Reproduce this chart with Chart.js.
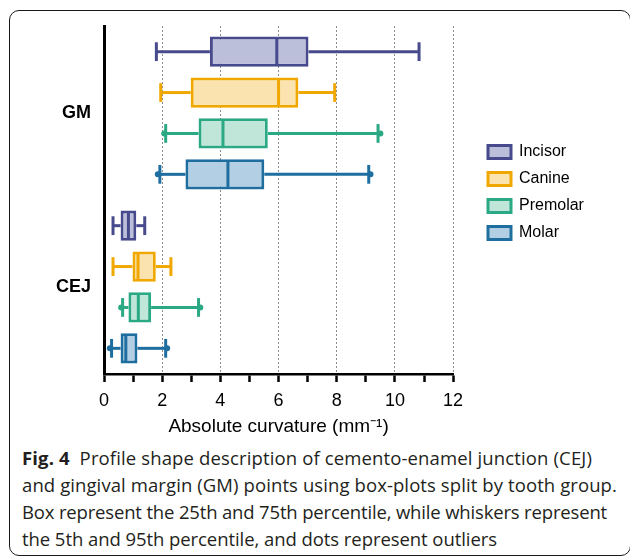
<!DOCTYPE html>
<html>
<head>
<meta charset="utf-8">
<script src="https://cdn.jsdelivr.net/npm/chart.js@4/dist/chart.umd.min.js"></script>
<style>
  html, body { margin:0; padding:0; width:630px; height:559px; overflow:hidden; background:#fff; }
  #frame { position:absolute; left:9px; top:10px; width:622px; height:546px; border:1.5px solid #1a1a1a; border-radius:10px; box-sizing:border-box; }
  #chartWrap { position:absolute; left:0; top:0; width:630px; height:442px; }
  #caption { position:absolute; left:22px; top:444px; font-family:"Open Sans","Noto Sans",sans-serif; font-size:18.5px; line-height:27px; color:#231f20; white-space:nowrap; }
  #caption .ln { display:block; }
  #caption b { font-weight:700; }
</style>
</head>
<body>
<div id="frame"></div>
<div id="chartWrap"><canvas id="c" width="630" height="442"></canvas></div>
<div id="caption">
  <span class="ln" data-w="570"><b>Fig. 4</b>&nbsp; Profile shape description of cemento-enamel junction (CEJ)</span>
  <span class="ln" data-w="595">and gingival margin (GM) points using box-plots split by tooth group.</span>
  <span class="ln" data-w="585">Box represent the 25th and 75th percentile, while whiskers represent</span>
  <span class="ln" data-w="475">the 5th and 95th percentile, and dots represent outliers</span>
</div>
<script>
// ---- data ----
const categories = ['GM', 'CEJ'];
const seriesNames = ['Incisor', 'Canine', 'Premolar', 'Molar'];
// each inner array: [GM, CEJ]
const whiskerLow  = [[1.80, 0.31], [1.95, 0.31], [2.12, 0.64], [1.92, 0.26]];
const quartile1   = [[3.64, 0.57], [2.98, 0.98], [3.25, 0.84], [2.80, 0.57]];
const medianVals  = [[5.94, 0.84], [6.00, 1.17], [4.09, 1.18], [4.26, 0.75]];
const quartile3   = [[7.03, 1.11], [6.68, 1.78], [5.63, 1.62], [5.51, 1.15]];
const whiskerHigh = [[10.83, 1.40], [7.93, 2.30], [9.42, 3.25], [9.10, 2.12]];
const outliers    = [[[], []], [[], []], [[2.07, 9.50], [0.59, 3.31]], [[1.85, 9.16], [0.20, 2.17]]];
const xTickLabels = ['0', '2', '4', '6', '8', '10', '12'];

const strokeColors = ['#474a8c', '#f0a800', '#2aa984', '#1f6ea0'];
const fillColors   = ['#bcbfd9', '#fae3ae', '#bfe6d8', '#b3cfe3'];

Chart.defaults.font.family = '"Liberation Sans", Arial, sans-serif';
Chart.defaults.color = '#000';

const boxWhiskers = {
  id: 'boxWhiskers',
  afterDatasetsDraw(chart) {
    const ctx = chart.ctx, xs = chart.scales.x;
    chart.data.datasets.forEach((ds, i) => {
      const meta = chart.getDatasetMeta(i);
      meta.data.forEach((bar, k) => {
        const y = bar.y, h = bar.height;
        const px = v => xs.getPixelForValue(v);
        const xl = px(whiskerLow[i][k]), x1 = px(quartile1[i][k]), xm = px(medianVals[i][k]),
              x3 = px(quartile3[i][k]), xh = px(whiskerHigh[i][k]);
        ctx.save();
        ctx.strokeStyle = ds.borderColor;
        ctx.fillStyle = ds.borderColor;
        ctx.lineWidth = 3;
        ctx.lineCap = 'butt';
        const line = (a, b, c, d) => { ctx.beginPath(); ctx.moveTo(a, b); ctx.lineTo(c, d); ctx.stroke(); };
        line(xl, y, x1, y);
        line(x3, y, xh, y);
        const cap = h * 0.31;
        line(xl, y - cap, xl, y + cap);
        line(xh, y - cap, xh, y + cap);
        line(xm, y - h / 2 + 1.5, xm, y + h / 2 - 1.5);
        outliers[i][k].forEach(v => {
          ctx.beginPath(); ctx.arc(px(v), y, 3, 0, Math.PI * 2); ctx.fill();
        });
        ctx.restore();
      });
    });
  }
};

const LEGEND_X = 488, LEGEND_DY = -41.5;
const legendPlace = {
  id: 'legendPlace',
  afterLayout(chart) {
    const lg = chart.legend;
    if (!lg) return;
    const pad = lg.options.labels.padding;
    const dx = LEGEND_X - (lg.left + pad);
    lg.left += dx; lg.right += dx;
    lg.top += LEGEND_DY; lg.bottom += LEGEND_DY;
  }
};

new Chart(document.getElementById('c'), {
  type: 'bar',
  data: {
    labels: categories,
    datasets: seriesNames.map((name, i) => ({
      label: name,
      data: categories.map((c, k) => [quartile1[i][k], quartile3[i][k]]),
      backgroundColor: fillColors[i],
      borderColor: strokeColors[i],
      borderWidth: 3,
      borderSkipped: false,
      categoryPercentage: 0.94,
      barPercentage: 0.74
    }))
  },
  options: {
    indexAxis: 'y',
    responsive: false,
    animation: false,
    devicePixelRatio: 1,
    layout: { padding: { top: 26, right: 60, bottom: 0, left: 0 } },
    scales: {
      x: {
        type: 'linear', min: 0, max: 12,
        ticks: {
          stepSize: 1, autoSkip: false, maxRotation: 0, padding: 8,
          color: '#000', font: { size: 18 },
          callback: (v) => { const s = String(v); return xTickLabels.includes(s) ? s : ''; }
        },
        grid: {
          color: (c) => (c.tick && c.tick.value > 0 && c.tick.value % 2 === 0) ? '#8c8c8c' : 'rgba(0,0,0,0)',
          lineWidth: 1, tickColor: '#000', tickLength: 8, tickWidth: 2.5
        },
        border: { color: '#000', width: 2.5, dash: [2, 2] },
        title: { display: true, text: 'Absolute curvature (mm⁻¹)', color: '#000', font: { size: 19 }, padding: { top: 2, bottom: 4 } },
        afterFit: (s) => { s.height = 68; }
      },
      y: {
        type: 'category', offset: true,
        grid: { display: false, drawTicks: false },
        border: { color: '#000', width: 3 },
        ticks: { color: '#000', font: { size: 18, weight: 'bold' }, padding: 13 },
        afterFit: (s) => { s.width = 104; }
      }
    },
    plugins: {
      legend: {
        position: 'right', align: 'center',
        labels: { boxWidth: 23, boxHeight: 13, padding: 11, color: '#000', font: { size: 16 } }
      },
      tooltip: { enabled: false }
    }
  },
  plugins: [boxWhiskers, legendPlace]
});

// fit caption lines to the reference widths
document.querySelectorAll('#caption .ln').forEach(el => {
  el.style.display = 'inline-block';
  const target = +el.dataset.w;
  const w = el.getBoundingClientRect().width;
  const n = el.textContent.length;
  el.style.letterSpacing = ((target - w) / n) + 'px';
  el.style.display = 'block';
});
</script>
</body>
</html>
